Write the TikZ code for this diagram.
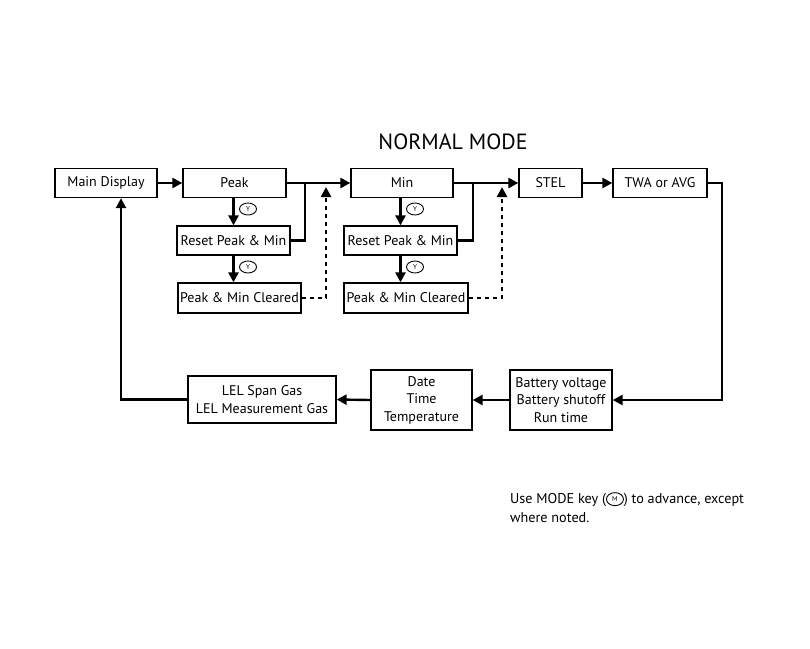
\documentclass[tikz,border=0pt]{standalone}
\usepackage{fontspec}
\setmainfont{PT Sans}
\usetikzlibrary{arrows.meta,shapes.geometric}
\begin{document}
\begin{tikzpicture}[x=1pt,y=-1pt,
  box/.style={draw,line width=1.3pt,rectangle,inner sep=0pt,minimum height=29pt,font=\fontsize{14}{17.5}\selectfont,align=center},
  conn/.style={line width=2.4pt},
  arr/.style={conn,-{Triangle[length=10pt,width=10pt]}},
  dashconn/.style={line width=2.4pt,dash pattern=on 4pt off 4pt,-{Triangle[length=10pt,width=10pt]}},
  ykey/.style={draw,ellipse,line width=0.9pt,inner sep=0pt,minimum width=17pt,minimum height=12pt,font=\fontsize{7}{7}\selectfont}]
\useasboundingbox (0,0) rectangle (810,648);
\node[font=\fontsize{22}{24}\selectfont] (title) at (453,142) {NORMAL MODE};
\node[box,minimum width=102pt] (main) at (106,183) {Main Display};
\node[box,minimum width=103pt] (peak) at (234.5,183) {Peak};
\node[box,minimum width=113pt] (reset1) at (233.5,240.5) {Reset Peak \& Min};
\node[box,minimum width=123pt,minimum height=30pt] (clr1) at (239.5,298) {Peak \& Min Cleared};
\node[box,minimum width=102pt] (min) at (402,183) {Min};
\node[box,minimum width=113pt] (reset2) at (400.5,240.5) {Reset Peak \& Min};
\node[box,minimum width=124pt,minimum height=30pt] (clr2) at (406,298) {Peak \& Min Cleared};
\node[box,minimum width=63pt] (stel) at (550.5,183) {STEL};
\node[box,minimum width=94pt] (twa) at (660,183) {TWA or AVG};
\node[box,minimum width=148pt,minimum height=47pt] (lel) at (262,399.5) {LEL Span Gas\\LEL Measurement Gas};
\node[box,minimum width=101pt,minimum height=60pt] (date) at (421.5,400) {Date\\Time\\Temperature};
\node[box,minimum width=102pt,minimum height=60pt] (bat) at (561,400) {Battery voltage\\Battery shutoff\\Run time};
\node[ykey] (y1) at (248,209) {Y};
\node[ykey] (y2) at (248,267) {Y};
\node[ykey] (y3) at (415,209) {Y};
\node[ykey] (y4) at (415,267) {Y};
\coordinate (j1) at (305,183);
\coordinate (d1) at (326,187);
\coordinate (j2) at (473,183);
\coordinate (d2) at (502,187);
\coordinate (c2) at (722,400);
\coordinate (c3) at (121,399.5);
% connectors
\draw[arr] (main.east) -- (peak.west);
\draw[arr] (peak.east) -- (min.west);
\draw[conn] (reset1.east) -| (j1);
\draw[dashconn] (clr1.east) -| (d1);
\draw[arr] (peak.south -| reset1.north) -- (reset1.north);
\draw[arr] (reset1.south) -- (reset1.south |- clr1.north);
\draw[arr] (min.east) -- (stel.west);
\draw[conn] (reset2.east) -| (j2);
\draw[dashconn] (clr2.east) -| (d2);
\draw[arr] (min.south -| reset2.north) -- (reset2.north);
\draw[arr] (reset2.south) -- (reset2.south |- clr2.north);
\draw[arr] (stel.east) -- (twa.west);
\draw[arr] (twa.east) -| (c2) -- (bat.east);
\draw[arr] (bat.west) -- (date.east);
\draw[arr] (date.west) -- (lel.east);
\draw[arr] (lel.west) -- (c3) -- (c3 |- main.south);
% note
\node[anchor=north west,align=left,inner sep=0pt,font=\fontsize{14.2}{19}\selectfont] (note) at (510,492)
  {Use MODE key (\tikz[baseline={([yshift=-4.5pt]m.center)}]\node[draw,ellipse,line width=0.9pt,inner sep=0pt,minimum width=17pt,minimum height=13pt,font=\fontsize{7}{7}\selectfont] (m) {M};) to advance, except\\where noted.};
\end{tikzpicture}
\end{document}
